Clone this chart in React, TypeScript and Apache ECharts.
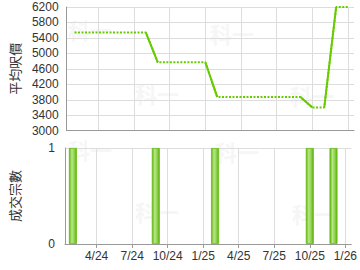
import React, { useEffect, useRef } from 'react';
import * as echarts from 'echarts';

// Monthly average price per sq ft (carried forward between deals)
const priceMonths = [
  '2024-02', '2024-03', '2024-04', '2024-05', '2024-06', '2024-07', '2024-08',
  '2024-09', '2024-10', '2024-11', '2024-12', '2025-01',
  '2025-02', '2025-03', '2025-04', '2025-05', '2025-06', '2025-07', '2025-08', '2025-09',
  '2025-10', '2025-11',
  '2025-12', '2026-01',
];
const priceValues = [
  5540, 5540, 5540, 5540, 5540, 5540, 5540,
  4770, 4770, 4770, 4770, 4770,
  3870, 3870, 3870, 3870, 3870, 3870, 3870, 3870,
  3600, 3600,
  6200, 6200,
];

// Deals per month
const dealMonths = ['2024-02', '2024-09', '2025-02', '2025-10', '2025-12'];
const dealCounts = [1, 1, 1, 1, 1];

// Axis ticks
const xTickMonths = ['2024-04', '2024-07', '2024-10', '2025-01', '2025-04', '2025-07', '2025-10', '2026-01'];
const xTickLabels = ['4/24', '7/24', '10/24', '1/25', '4/25', '7/25', '10/25', '1/26'];
const priceTicks = [3000, 3400, 3800, 4200, 4600, 5000, 5400, 5800, 6200];
const countTicks = [0, 1];

const monthIndex = (s: string) => {
  const [y, m] = s.split('-').map(Number);
  return (y - 2024) * 12 + (m - 1);
};

const LINE = '#66cc00';
const GRID = '#dddddd';
const AXIS = '#999999';
const TXT = '#333333';
const NUMFONT = 'Liberation Sans, Arial, sans-serif';
const CJKFONT = 'Noto Sans CJK TC, sans-serif';

export default function App() {
  const ref = useRef<HTMLDivElement>(null);
  useEffect(() => {
    if (!ref.current) return;
    const chart = echarts.init(ref.current, undefined, { renderer: 'svg' });

    const xTicks = xTickMonths.map(monthIndex);
    const xs = priceMonths.map(monthIndex);
    const dottedData = xs.map((x, i) => [x, priceValues[i]]);
    const dealX = dealMonths.map(monthIndex);
    const solidData: any[] = [];
    dealX.forEach((dx, k) => {
      const i = xs.indexOf(dx);
      if (k === 0 || i <= 0) return;
      solidData.push([xs[i - 1], priceValues[i - 1]]);
      solidData.push([xs[i], priceValues[i]]);
      solidData.push([xs[i] + 0.5, '-']);
    });

    const xMin = 1 / 3;
    const xMax = 24.5;

    const xLabelFmt = (v: number) => {
      const k = xTicks.findIndex((t) => Math.abs(t - v) < 1e-6);
      return k >= 0 ? xTickLabels[k] : '';
    };
    const plain = (v: number) => String(Math.round(v));

    const wm = (x: number, y: number) => ({
      type: 'text',
      x,
      y,
      z: 0,
      silent: true,
      style: { text: '科一', fill: '#f6f6f6', font: 'bold 22px "Noto Sans CJK TC", sans-serif' },
    });

    chart.setOption({
      animation: false,
      graphic: [wm(68, 18), wm(210, 22), wm(135, 82), wm(290, 84), wm(68, 138), wm(215, 140), wm(135, 200), wm(292, 202)],
      grid: [
        { left: 64, right: 6, top: 7, height: 123.7 },
        { left: 64, right: 6, top: 148, height: 96 },
      ],
      xAxis: [
        {
          type: 'value', gridIndex: 0, min: xMin, max: xMax,
          axisLine: { show: true, lineStyle: { color: AXIS, width: 1 } },
          axisTick: { show: false, customValues: xTicks },
          axisLabel: { show: false, customValues: xTicks },
          splitLine: { show: true, lineStyle: { color: GRID, width: 1 } },
        },
        {
          type: 'value', gridIndex: 1, min: xMin, max: xMax,
          axisLine: { show: true, lineStyle: { color: AXIS, width: 1 } },
          axisTick: { show: true, length: 4, customValues: xTicks, lineStyle: { color: AXIS } },
          axisLabel: {
            show: true, customValues: xTicks, formatter: xLabelFmt,
            color: TXT, fontSize: 12, fontFamily: NUMFONT, margin: 6,
          },
          splitLine: { show: true, lineStyle: { color: GRID, width: 1 } },
        },
      ],
      yAxis: [
        {
          type: 'value', gridIndex: 0, min: priceTicks[0], max: priceTicks[priceTicks.length - 1],
          name: '平均呎價', nameLocation: 'middle', nameGap: 44,
          nameTextStyle: { color: TXT, fontSize: 13, fontFamily: CJKFONT },
          axisLine: { show: true, lineStyle: { color: AXIS, width: 1 } },
          axisTick: { show: false, customValues: priceTicks },
          axisLabel: {
            show: true, customValues: priceTicks, formatter: plain,
            color: TXT, fontSize: 12, lineHeight: 12, fontFamily: NUMFONT, margin: 8,
          },
          splitLine: { show: true, lineStyle: { color: GRID, width: 1 } },
        },
        {
          type: 'value', gridIndex: 1, min: countTicks[0], max: countTicks[countTicks.length - 1],
          name: '成交宗數', nameLocation: 'middle', nameGap: 44,
          nameTextStyle: { color: TXT, fontSize: 13, fontFamily: CJKFONT },
          axisLine: { show: true, lineStyle: { color: AXIS, width: 1 } },
          axisTick: { show: false, customValues: countTicks },
          axisLabel: {
            show: true, customValues: countTicks, formatter: plain,
            color: TXT, fontSize: 12, fontFamily: NUMFONT, margin: 10,
          },
          splitLine: { show: true, lineStyle: { color: GRID, width: 1 } },
        },
      ],
      series: [
        {
          type: 'line', xAxisIndex: 0, yAxisIndex: 0, data: dottedData,
          symbol: 'none', z: 3,
          lineStyle: { color: LINE, width: 2, type: [2, 1.5] },
        },
        {
          type: 'line', xAxisIndex: 0, yAxisIndex: 0, data: solidData,
          symbol: 'none', connectNulls: false, z: 4,
          lineStyle: { color: LINE, width: 2, type: 'solid' },
        },
        {
          type: 'bar', xAxisIndex: 1, yAxisIndex: 1,
          data: dealX.map((x, i) => [x, dealCounts[i]]),
          barWidth: 8, z: 3,
          itemStyle: {
            borderColor: '#66bb11', borderWidth: 0.8,
            color: {
              type: 'linear', x: 0, y: 0, x2: 1, y2: 0,
              colorStops: [
                { offset: 0, color: '#5fb40a' },
                { offset: 0.35, color: '#b8e68a' },
                { offset: 0.6, color: '#9bd860' },
                { offset: 1, color: '#5fb40a' },
              ],
            },
          },
        },
      ],
    });
    return () => chart.dispose();
  }, []);
  return <div ref={ref} style={{ position: 'absolute', left: 0, top: 0, width: 360, height: 270 }} />;
}
